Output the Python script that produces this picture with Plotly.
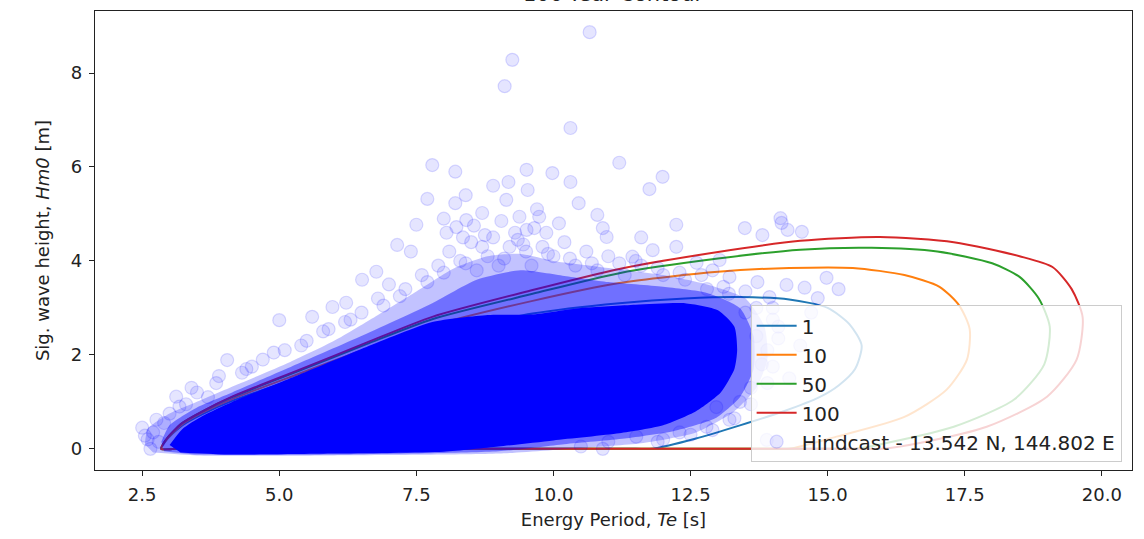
import plotly.graph_objects as go

# ---------------- contour data (Te [s], Hm0 [m]) ----------------
return_periods = ["1", "10", "50", "100"]
contour_colors = ["#1f77b4", "#ff7f0e", "#2ca02c", "#d62728"]

te_rp1 = [2.85, 2.95, 3.23, 3.6, 4.14, 5.36, 6.59, 7.79, 9.62, 11.2, 12.4, 13.4, 14.3, 15.0, 15.4, 15.62, 15.5, 15.2, 14.85, 14.2, 13.4, 12.6, 11.8, 11.5, 10.0, 7.0, 4.0, 3.1, 2.85]
hm_rp1 = [0.0, 0.2, 0.5, 0.74, 1.02, 1.52, 2.0, 2.42, 2.88, 3.1, 3.2, 3.23, 3.18, 3.0, 2.65, 2.2, 1.7, 1.35, 1.1, 0.8, 0.5, 0.22, 0.0, 0.0, 0.0, 0.0, 0.0, 0.0, 0.0]

te_rp10 = [2.85, 2.95, 3.23, 3.6, 4.14, 5.36, 6.59, 7.79, 9.62, 11.2, 13.0, 14.3, 15.46, 16.4, 17.04, 17.4, 17.59, 17.54, 17.17, 16.4, 15.16, 14.3, 14.0, 12.0, 8.0, 4.0, 3.1, 2.85]
hm_rp10 = [0.0, 0.2, 0.52, 0.77, 1.06, 1.6, 2.13, 2.62, 3.15, 3.53, 3.77, 3.85, 3.85, 3.7, 3.45, 3.05, 2.55, 1.9, 1.26, 0.68, 0.26, 0.0, 0.0, 0.0, 0.0, 0.0, 0.0, 0.0]

te_rp50 = [2.85, 2.95, 3.23, 3.6, 4.14, 5.36, 6.59, 7.79, 9.62, 11.2, 13.0, 14.5, 15.8, 17.0, 18.0, 18.5, 18.85, 19.05, 18.95, 18.4, 17.3, 16.1, 15.5, 15.2, 12.0, 8.0, 4.0, 3.1, 2.85]
hm_rp50 = [0.0, 0.22, 0.55, 0.8, 1.1, 1.66, 2.23, 2.76, 3.3, 3.74, 4.05, 4.24, 4.28, 4.2, 3.95, 3.66, 3.2, 2.6, 1.8, 1.05, 0.47, 0.13, 0.0, 0.0, 0.0, 0.0, 0.0, 0.0, 0.0]

te_rp100 = [2.85, 2.95, 3.23, 3.6, 4.14, 5.36, 6.59, 7.79, 9.62, 11.2, 13.0, 14.5, 15.95, 17.3, 18.5, 19.1, 19.45, 19.65, 19.54, 19.0, 17.9, 16.7, 16.0, 15.7, 12.0, 8.0, 4.0, 3.1, 2.85]
hm_rp100 = [0.0, 0.22, 0.55, 0.8, 1.11, 1.68, 2.26, 2.81, 3.38, 3.83, 4.19, 4.43, 4.51, 4.4, 4.1, 3.87, 3.4, 2.8, 1.9, 1.11, 0.47, 0.13, 0.0, 0.0, 0.0, 0.0, 0.0, 0.0, 0.0]

# ---------------- hindcast data ----------------
# outline of the saturated (very dense) part of the hindcast cloud
te_dense = [3.0, 3.23, 3.6, 4.14, 5.36, 6.59, 7.79, 8.8, 9.6, 10.5, 11.5, 12.4, 13.0, 13.3, 13.35, 13.3, 13.05, 12.6, 12.0, 11.2, 10.0, 9.0, 8.0, 6.0, 4.0, 3.2]
hm_dense = [0.08, 0.42, 0.7, 1.0, 1.58, 2.17, 2.7, 2.85, 2.86, 3.0, 3.07, 3.1, 2.95, 2.6, 2.1, 1.7, 1.2, 0.8, 0.5, 0.33, 0.18, 0.05, -0.06, -0.1, -0.12, -0.08]

# outline of the moderately dense band around it
te_mid = [2.85, 3.0, 3.5, 4.14, 5.36, 6.59, 7.79, 8.6, 9.4, 10.2, 11.0, 12.0, 12.8, 13.4, 13.65, 13.65, 13.4, 12.95, 12.2, 11.3, 10.2, 9.0, 6.0, 3.5, 2.9]
hm_mid = [0.15, 0.5, 0.88, 1.2, 1.82, 2.45, 3.1, 3.6, 3.8, 3.68, 3.55, 3.45, 3.32, 3.0, 2.4, 1.7, 1.1, 0.65, 0.38, 0.22, 0.1, -0.05, -0.12, -0.12, -0.05]

# outline of the sparse outer fringe
te_fringe = [2.55, 2.6, 3.0, 3.6, 4.3, 5.2, 6.0, 6.8, 7.5, 8.2, 8.8, 9.4, 10.0, 11.0, 12.0, 12.8, 13.5, 13.85, 13.9, 13.7, 13.3, 12.6, 11.6, 10.5, 9.0, 6.0, 3.5, 2.7]
hm_fringe = [0.1, 0.42, 0.75, 1.05, 1.4, 1.85, 2.3, 2.85, 3.35, 3.85, 4.1, 4.15, 4.0, 3.85, 3.7, 3.5, 3.2, 2.6, 1.9, 1.3, 0.8, 0.35, 0.12, 0.02, -0.1, -0.14, -0.14, -0.08]

# individual sea states outside the dense cloud
te_pts = [10.66, 9.25, 9.11, 10.31, 7.79, 8.21, 7.70, 8.21, 7.50, 9.18, 9.51, 9.53, 9.98, 10.31, 11.20,
          11.99, 11.75, 10.46, 10.80, 12.24, 13.49, 14.16, 14.27, 9.14, 8.70, 8.41, 8.23, 8.05, 9.38, 9.74,
          9.51, 9.87, 10.97, 14.14, 13.81, 14.53, 14.98, 14.82, 14.58, 14.25, 13.72, 13.94, 11.44, 11.81, 12.24,
          12.61, 13.21, 13.03, 13.89, 13.21, 12.79, 12.97, 11.51, 5.00, 4.05, 4.32, 5.60, 5.97, 6.22, 6.51,
          6.77, 7.15, 2.50, 2.76, 3.12, 3.85, 3.18, 2.60, 2.70, 2.90, 3.00, 3.30, 3.50, 3.70, 7.30,
          7.60, 7.90, 8.10, 8.30, 8.50, 8.60, 8.80, 8.90, 9.00, 9.20, 9.30, 9.50, 9.60, 9.80, 10.00,
          10.20, 10.40, 10.60, 10.80, 11.00, 11.30, 11.60, 12.00, 12.40, 12.80, 6.80, 7.00, 6.50, 6.20, 5.80,
          5.40, 5.10, 4.70, 4.40, 13.50, 13.70, 13.80, 13.60, 13.40, 13.90, 14.10, 14.30, 13.20, 14.00, 14.50,
          12.50, 12.00, 11.00, 10.50, 8.00, 8.40, 7.40, 10.10, 10.90, 11.60, 12.90, 15.20, 14.70, 9.70, 8.90,
          3.40, 3.90, 4.50, 4.90, 5.50, 5.90, 6.30, 6.90, 7.20, 7.70, 8.00, 8.40, 8.70, 9.10, 9.45,
          9.90, 10.30, 10.70, 11.20, 11.50, 11.90, 12.30, 12.70, 13.10, 13.50, 13.70, 14.00, 14.10, 14.00, 13.90,
          13.60, 13.30, 12.90, 12.30, 11.90, 10.90, 2.65, 2.55, 2.80, 8.55, 8.75, 9.05, 9.35, 9.65, 8.35]
hm_pts = [8.87, 8.28, 7.72, 6.83, 6.04, 5.90, 5.32, 5.23, 4.77, 5.68, 5.94, 5.51, 5.87, 5.68, 6.09,
          5.79, 5.53, 5.23, 4.98, 4.77, 4.70, 4.81, 4.66, 5.30, 5.02, 4.87, 4.72, 4.60, 4.94, 4.94,
          4.66, 4.60, 4.51, 4.91, 4.55, 4.62, 3.64, 3.21, 3.43, 3.49, 3.55, 3.23, 4.09, 4.23, 4.30,
          3.96, 3.66, 4.02, 0.19, 0.62, 0.47, 0.89, 0.26, 2.74, 1.89, 1.62, 2.81, 3.02, 3.11, 3.60,
          3.77, 4.34, 0.45, 0.62, 1.11, 1.40, 0.90, 0.20, 0.35, 0.55, 0.75, 0.95, 1.20, 1.10, 3.40,
          3.70, 3.90, 4.20, 4.00, 4.40, 3.80, 4.10, 4.50, 3.90, 4.30, 4.60, 4.20, 3.90, 4.30, 4.10,
          4.40, 3.90, 4.20, 3.80, 4.10, 3.70, 3.90, 3.70, 3.60, 3.40, 3.20, 3.50, 2.90, 2.70, 2.50,
          2.20, 2.10, 1.90, 1.70, 2.90, 2.40, 1.80, 1.30, 1.00, 2.10, 2.60, 1.50, 3.30, 3.00, 2.20,
          0.30, 0.20, 0.15, 0.05, 4.90, 5.40, 4.20, 4.80, 4.70, 4.50, 3.80, 3.40, 2.90, 5.10, 5.60,
          1.30, 1.55, 1.75, 2.05, 2.30, 2.55, 2.75, 3.05, 3.25, 3.55, 3.75, 3.95, 4.30, 4.05, 4.35,
          4.15, 4.05, 3.95, 3.95, 4.00, 3.85, 3.75, 3.70, 3.45, 3.35, 3.00, 2.75, 2.35, 1.75, 1.40,
          0.95, 0.65, 0.40, 0.35, 0.15, 0.00, 0.00, 0.28, 0.15, 4.75, 4.55, 4.85, 4.45, 4.70, 4.50]

legend_site = "Hindcast - 13.542 N, 144.802 E"
title_text = "100-Year Contour"
x_title = "Energy Period, <i>Te</i> [s]"
y_title = "Sig. wave height, <i>Hm0</i> [m]"
x_ticks = [2.5, 5.0, 7.5, 10.0, 12.5, 15.0, 17.5, 20.0]
y_ticks = [0, 2, 4, 6, 8]

FONT = "DejaVu Sans"
INK = "#222222"

fig = go.Figure()

contours = [(te_rp1, hm_rp1), (te_rp10, hm_rp10), (te_rp50, hm_rp50), (te_rp100, hm_rp100)]
for i, (te, hm) in enumerate(contours):
    fig.add_trace(go.Scatter(
        x=te, y=hm, mode="lines", name=return_periods[i],
        line=dict(color=contour_colors[i], width=2, shape="spline", smoothing=0.7),
        legendgroup="g" + return_periods[i], legendrank=i + 1,
    ))

for te, hm, col in [(te_fringe, hm_fringe, "rgba(0,0,255,0.24)"),
                    (te_mid, hm_mid, "rgba(0,0,255,0.42)"),
                    (te_dense, hm_dense, "rgb(0,0,255)")]:
    fig.add_trace(go.Scatter(
        x=te, y=hm, mode="lines", fill="toself", fillcolor=col,
        line=dict(width=0, color="rgba(0,0,255,0)", shape="spline", smoothing=0.6),
        showlegend=False, hoverinfo="skip",
    ))

fig.add_trace(go.Scatter(
    x=te_pts, y=hm_pts, mode="markers", name=legend_site,
    marker=dict(size=13, color="rgba(0,0,255,0.10)", line=dict(color="rgba(0,0,255,0.14)", width=1.2)),
    legendgroup="hindcast", legendrank=10,
))

fig.add_annotation(
    text=title_text, xref="paper", yref="paper", x=0.5, y=1.0,
    xanchor="center", yanchor="bottom", showarrow=False, yshift=3,
    font=dict(family=FONT, size=21, color=INK),
)

axis_common = dict(
    showline=True, mirror=True, linecolor=INK, linewidth=1.2,
    ticks="outside", ticklen=5, tickwidth=1, tickcolor=INK,
    showgrid=False, zeroline=False, ticklabelstandoff=3,
    tickfont=dict(family=FONT, size=18, color=INK),
)

fig.update_xaxes(
    range=[1.64, 20.55], tickvals=x_ticks, tickformat=".1f",
    title=dict(text=x_title, font=dict(family=FONT, size=18, color=INK), standoff=9),
    **axis_common,
)
fig.update_yaxes(
    range=[-0.45, 9.32], tickvals=y_ticks,
    title=dict(text=y_title, font=dict(family=FONT, size=18, color=INK), standoff=16),
    **axis_common,
)

fig.update_layout(
    width=1144, height=539,
    margin=dict(l=95, r=12, t=11, b=69),
    paper_bgcolor="white", plot_bgcolor="white",
    font=dict(family=FONT, size=18, color=INK),
    legend=dict(
        x=0.99, y=0.017, xanchor="right", yanchor="bottom",
        bgcolor="rgba(255,255,255,0.8)", bordercolor="#cccccc", borderwidth=1,
        font=dict(family=FONT, size=20, color=INK),
        tracegroupgap=0, itemwidth=40,
    ),
    showlegend=True,
)

fig.write_html(
    "out.html",
    config={"displayModeBar": False},
    post_script="document.body.style.margin='0';document.body.style.overflow='hidden';",
)
